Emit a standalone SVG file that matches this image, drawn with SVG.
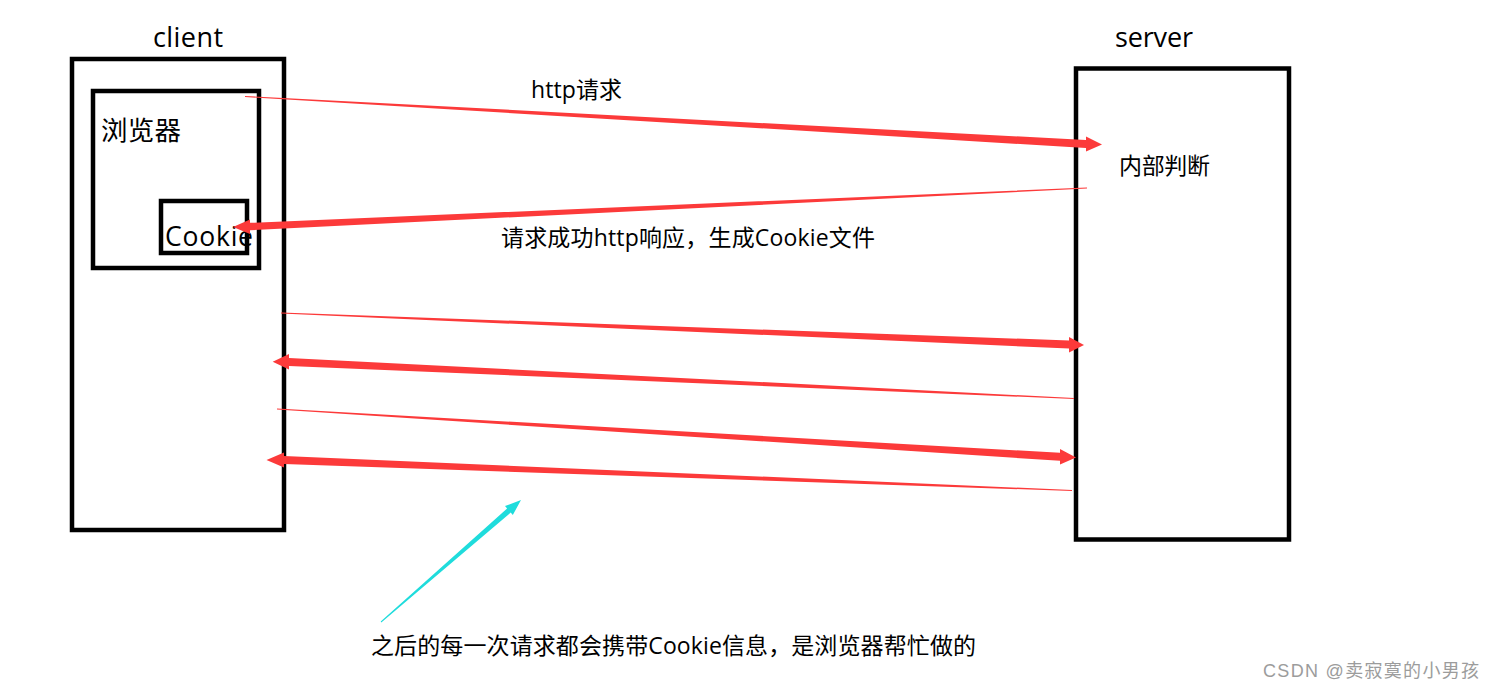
<svg xmlns="http://www.w3.org/2000/svg" width="1489" height="691" viewBox="0 0 1489 691">
<style>
.box{fill:none;stroke:#000;stroke-width:4.5}
.t{font-family:"Open Sans","Noto Sans CJK SC","Noto Sans",sans-serif;fill:#000}
.red{fill:#fc3a3a}
.cyan{fill:#1fdcdc}
.wm{font-family:"Liberation Sans","Noto Sans CJK SC",sans-serif;fill:#9c9c9c;font-size:18px}
</style>
<rect width="1489" height="691" fill="#fff"/>
<g id="client">
<rect class="box" x="72" y="59" width="212" height="471"/>
<text class="t" x="153" y="47" font-size="27" textLength="70">client</text>
</g>
<g id="browser">
<rect class="box" x="93" y="91" width="166" height="177"/>
<text class="t" x="101" y="139.5" font-size="26.5" textLength="80">浏览器</text>
</g>
<g id="cookie">
<rect class="box" x="161" y="201" width="86" height="52"/>
<text class="t" x="165" y="245.5" font-size="26.5" textLength="88">Cookie</text>
</g>
<g id="server">
<rect class="box" x="1076" y="68.5" width="213" height="471"/>
<text class="t" x="1115" y="47" font-size="27" textLength="78">server</text>
<text class="t" x="1119" y="174" font-size="23" textLength="91">内部判断</text>
</g>
<g id="connectors">
<polygon class="red" points="245,96 1086,140 1086,136.5 1102,144.5 1086,151.5 1086,148 245,97"/>
<polygon class="red" points="1087,187.5 250,222.8 250,219.5 233,227 250,234 250,230.3 1087,188.5"/>
<polygon class="red" points="281,312.5 1069,340.5 1069,337 1084,345 1069,352.5 1069,348.5 281,313.5"/>
<polygon class="red" points="1074,398 289,358 289,354 272.7,361.7 289,369.5 289,366 1074,399"/>
<polygon class="red" points="277,408.5 1060,452.8 1060,449 1076,457.5 1060,464.5 1060,460.8 277,409.5"/>
<polygon class="red" points="1072,490 284,456 284,452.5 266.5,460 284,467.5 284,464 1072,491"/>
<polygon class="cyan" points="380.7,621.6 507.1,508.4 505,506 521,500 512.8,515 510.7,512.6 381.3,622.4"/>
</g>
<g id="labels">
<text class="t" x="531" y="98" font-size="23" textLength="91">http请求</text>
<text class="t" x="501" y="246" font-size="23" textLength="374">请求成功http响应，生成Cookie文件</text>
<text class="t" x="371" y="654" font-size="23" textLength="605">之后的每一次请求都会携带Cookie信息，是浏览器帮忙做的</text>
<text class="wm" x="1263" y="677" textLength="216">CSDN @卖寂寞的小男孩</text>
</g>
</svg>
